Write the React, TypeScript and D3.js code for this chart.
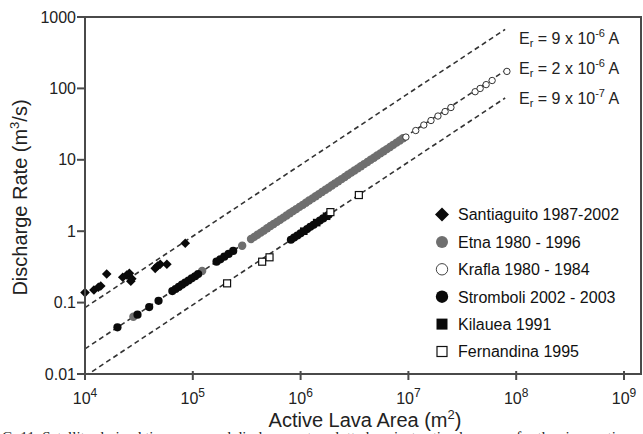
import React from "react";
import * as d3 from "d3";

// ---------- data ----------
const santiaguitoA = [1.0e4, 1.21e4, 1.33e4, 1.40e4, 1.59e4, 2.24e4, 2.44e4, 2.58e4, 2.66e4, 2.72e4, 4.48e4, 4.71e4, 4.99e4, 5.75e4, 8.51e4];
const santiaguitoQ = [0.138, 0.150, 0.164, 0.171, 0.251, 0.226, 0.244, 0.257, 0.199, 0.216, 0.302, 0.326, 0.344, 0.344, 0.678];

const etnaA = [2.81e4, 1.22e5, 2.87e5,
  3.47e5, 3.72e5, 3.98e5, 4.27e5, 4.57e5, 4.90e5, 5.25e5, 5.62e5, 6.03e5, 6.46e5, 6.92e5, 7.41e5, 7.94e5, 8.51e5, 9.12e5, 9.77e5,
  1.05e6, 1.12e6, 1.20e6, 1.29e6, 1.38e6, 1.48e6, 1.58e6, 1.70e6, 1.82e6, 1.95e6, 2.09e6, 2.24e6, 2.40e6, 2.57e6, 2.75e6, 2.95e6,
  3.16e6, 3.39e6, 3.63e6, 3.89e6, 4.17e6, 4.47e6, 4.79e6, 5.13e6, 5.50e6, 5.89e6, 6.31e6, 6.76e6, 7.24e6, 7.76e6, 8.32e6, 8.91e6];
const etnaQ = [0.0635, 0.277, 0.627,
  0.776, 0.832, 0.891, 0.955, 1.02, 1.10, 1.18, 1.26, 1.35, 1.45, 1.55, 1.66, 1.78, 1.91, 2.04, 2.19,
  2.34, 2.51, 2.69, 2.88, 3.09, 3.31, 3.55, 3.80, 4.07, 4.37, 4.68, 5.01, 5.37, 5.75, 6.17, 6.61,
  7.08, 7.59, 8.13, 8.71, 9.33, 10.0, 10.7, 11.5, 12.3, 13.2, 14.1, 15.1, 16.2, 17.4, 18.6, 20.0];

const kraflaA = [9.48e6, 1.17e7, 1.39e7, 1.62e7, 1.88e7, 2.19e7, 2.48e7, 4.16e7, 4.63e7, 5.26e7, 5.98e7, 8.2e7];
const kraflaQ = [20.8, 25.7, 30.7, 35.5, 41.0, 47.4, 54.0, 89.9, 99.8, 113, 129, 173];

const stromboliA = [2.0e4, 3.07e4, 3.94e4, 4.81e4,
  6.46e4, 6.92e4, 7.41e4, 7.94e4, 8.51e4, 9.12e4, 9.77e4, 1.05e5, 1.12e5,
  1.66e5, 1.80e5, 1.96e5, 2.15e5, 2.37e5,
  8.13e5, 8.71e5, 9.33e5, 1.0e6, 1.15e6, 1.23e6, 1.32e6, 1.51e6, 1.62e6, 1.82e6];
const stromboliQ = [0.045, 0.0678, 0.0867, 0.106,
  0.145, 0.155, 0.166, 0.178, 0.191, 0.204, 0.219, 0.234, 0.251,
  0.374, 0.404, 0.440, 0.482, 0.530,
  0.759, 0.813, 0.871, 0.933, 1.07, 1.15, 1.23, 1.41, 1.51, 1.70];

const kilaueaA = [1.07e6, 1.41e6, 1.74e6];
const kilaueaQ = [1.0, 1.32, 1.62];

const fernandinaA = [2.08e5, 4.40e5, 5.15e5, 1.89e6, 3.47e6];
const fernandinaQ = [0.186, 0.374, 0.431, 1.85, 3.21];

const effCoef = [8.5e-6, 2.25e-6, 9.3e-7];
const effMant = ["9", "2", "9"];
const effExp = ["-6", "-6", "-7"];
const lineA = [1e4, 7.9e7];

const xTicks = [1e4, 1e5, 1e6, 1e7, 1e8, 1e9];
const xTickExp = ["4", "5", "6", "7", "8", "9"];
const yTicks = [0.01, 0.1, 1, 10, 100, 1000];
const yTickLabels = ["0.01", "0.1", "1", "10", "100", "1000"];

const legendNames = ["Santiaguito 1987-2002", "Etna 1980 - 1996", "Krafla 1980 - 1984", "Stromboli 2002 - 2003", "Kilauea 1991", "Fernandina 1995"];

// ---------- layout ----------
const W = 643, H = 434;
const L = 85, R = 641, T = 17, B = 374;
const FONT = "'Liberation Sans', Arial, Helvetica, sans-serif";

export default function App() {
  const x = d3.scaleLog().domain([1e4, 1e9]).range([L, 624]);
  const y = d3.scaleLog().domain([0.01, 1000]).range([B, T]);
  const line = d3.line<number>().x((a) => x(a)).y((a, i, arr) => 0);

  const diamond = (cx: number, cy: number, r: number) =>
    `M${cx},${cy - r}L${cx + r},${cy}L${cx},${cy + r}L${cx - r},${cy}Z`;

  const legendY = (i: number) => 214.5 + i * 27.4;
  const lx = 442;

  return (
    <svg width={W} height={H} style={{ position: "absolute", left: 0, top: 0, background: "#fff" }} fontFamily={FONT}>
      <defs>
        <clipPath id="plot">
          <rect x={L} y={T} width={R - L} height={B - T} />
        </clipPath>
      </defs>

      {/* dashed efficiency lines */}
      <g clipPath="url(#plot)">
        {effCoef.map((k, i) => (
          <line key={i} x1={x(lineA[0])} y1={y(k * lineA[0])} x2={x(lineA[1])} y2={y(k * lineA[1])}
            stroke="#333" strokeWidth={1.6} strokeDasharray="5,3.5" />
        ))}
      </g>

      {/* Etna */}
      {etnaA.map((a, i) => (
        <circle key={"e" + i} cx={x(a)} cy={y(etnaQ[i])} r={4.2} fill="#6f6f6f" />
      ))}
      {/* Stromboli */}
      {stromboliA.map((a, i) => (
        <circle key={"s" + i} cx={x(a)} cy={y(stromboliQ[i])} r={4.1} fill="#0a0a0a" />
      ))}
      {/* Kilauea */}
      {kilaueaA.map((a, i) => (
        <rect key={"k" + i} x={x(a) - 3.8} y={y(kilaueaQ[i]) - 3.8} width={7.6} height={7.6} fill="#0a0a0a" />
      ))}
      {/* Krafla */}
      {kraflaA.map((a, i) => (
        <circle key={"kr" + i} cx={x(a)} cy={y(kraflaQ[i])} r={3.2} fill="#fff" stroke="#333" strokeWidth={1} />
      ))}
      {/* Fernandina */}
      {fernandinaA.map((a, i) => (
        <rect key={"f" + i} x={x(a) - 3.5} y={y(fernandinaQ[i]) - 3.5} width={7} height={7} fill="#fff" stroke="#111" strokeWidth={1.2} />
      ))}
      {/* Santiaguito */}
      {santiaguitoA.map((a, i) => (
        <path key={"sa" + i} d={diamond(x(a), y(santiaguitoQ[i]), 4.8)} fill="#0a0a0a" />
      ))}

      {/* frame */}
      <rect x={L} y={T} width={R - L} height={B - T} fill="none" stroke="#4a4a4a" strokeWidth={2} />

      {/* y ticks */}
      {yTicks.map((v, i) => (
        <g key={"yt" + i}>
          <line x1={L - 8} x2={L} y1={y(v)} y2={y(v)} stroke="#4a4a4a" strokeWidth={2} />
          <text x={L - 9} y={y(v)} dy="0.35em" textAnchor="end" fontSize={16} fill="#222">{yTickLabels[i]}</text>
        </g>
      ))}
      {/* x ticks */}
      {xTicks.map((v, i) => (
        <g key={"xt" + i}>
          <line x1={x(v)} x2={x(v)} y1={B - 3} y2={B + 6} stroke="#4a4a4a" strokeWidth={2} />
          <text x={x(v)} y={404} textAnchor="middle" fontSize={16} fill="#222">
            10<tspan dy={-7} fontSize={12}>{xTickExp[i]}</tspan>
          </text>
        </g>
      ))}

      {/* axis titles */}
      <text x={365} y={427} textAnchor="middle" fontSize={20} fill="#222">
        Active Lava Area (m<tspan dy={-8} fontSize={13}>2</tspan><tspan dy={8}>)</tspan>
      </text>
      <text transform="translate(26.5,197.5) rotate(-90)" textAnchor="middle" fontSize={20} fill="#222">
        Discharge Rate (m<tspan dy={-8} fontSize={13}>3</tspan><tspan dy={8}>/s)</tspan>
      </text>

      {/* efficiency labels */}
      {effCoef.map((k, i) => (
        <text key={"el" + i} x={519} y={44 + i * 30} fontSize={16} fill="#222">
          E<tspan dy={3} fontSize={11}>r</tspan><tspan dy={-3}> = {effMant[i]} x 10</tspan>
          <tspan dy={-7} fontSize={11}>{effExp[i]}</tspan><tspan dy={7}> A</tspan>
        </text>
      ))}

      {/* legend */}
      <path d={diamond(lx, legendY(0), 7)} fill="#0a0a0a" />
      <circle cx={lx} cy={legendY(1)} r={6} fill="#6f6f6f" />
      <circle cx={lx} cy={legendY(2)} r={5.7} fill="#fff" stroke="#444" strokeWidth={1} />
      <circle cx={lx} cy={legendY(3)} r={6.2} fill="#0a0a0a" />
      <rect x={lx - 5.5} y={legendY(4) - 5.5} width={11} height={11} fill="#0a0a0a" />
      <rect x={lx - 5} y={legendY(5) - 5} width={10} height={10} fill="#fff" stroke="#111" strokeWidth={1.2} />
      {legendNames.map((n, i) => (
        <text key={"ln" + i} x={458} y={legendY(i) + 5.8} fontSize={16} fill="#111">{n}</text>
      ))}

      {/* cut-off caption line */}
      <text x={2} y={442} fontSize={15} fontFamily="'Liberation Serif', 'Times New Roman', serif" fill="#222">
        G. 11. Satellite-derived time-averaged discharge rates plotted against active lava area for the six eruptions
      </text>
    </svg>
  );
}
